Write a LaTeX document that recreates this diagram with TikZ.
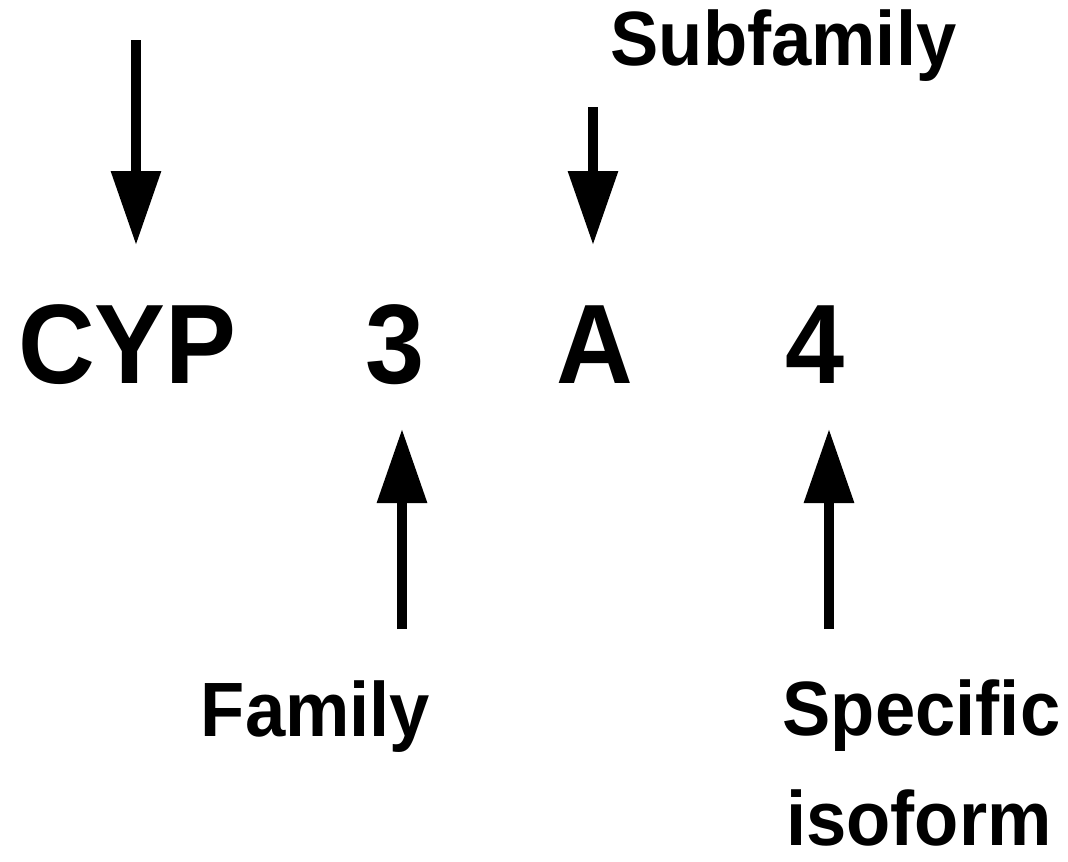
\documentclass[tikz,border=0pt]{standalone}
\usepackage{fontspec}
\setmainfont{Liberation Sans}[FakeStretch=0.94]
\usetikzlibrary{arrows.meta}
\begin{document}
\begin{tikzpicture}[x=1bp,y=-1bp,
  big/.style={inner sep=0pt, anchor=base, font=\fontsize{113bp}{113bp}\selectfont\bfseries},
  lbl/.style={inner sep=0pt, anchor=base, font=\fontsize{77bp}{77bp}\selectfont\bfseries},
  arr/.style={line width=9.5bp, -{Triangle[length=74bp,width=48bp]}}]
\useasboundingbox[fill=white] (0,0) rectangle (1068,862);
% main code
\node[big] (cyp) at (127.5,383) {CYP};
\node[big] (three) at (395,383) {3};
\node[big] (a) at (595,383) {A};
\node[big] (four) at (815,383) {4};
% labels
\node[lbl] (sub) at (783.5,65) {Subfamily};
\node[lbl] (fam) at (315.5,736) {Family};
\node[lbl] (spec) at (921.5,735) {Specific};
\node[lbl] (iso) at (919,845) {isoform};
% arrow ends
\coordinate (c1s) at (136,40);
\coordinate (c1e) at (136,245);
\coordinate (c2s) at (593,107);
\coordinate (c2e) at (593,245);
\coordinate (c3s) at (402,629);
\coordinate (c3e) at (402,429);
\coordinate (c4s) at (829,629);
\coordinate (c4e) at (829,429);
\draw[arr] (c1s) -- (c1e);
\draw[arr] (c2s) -- (c2e);
\draw[arr] (c3s) -- (c3e);
\draw[arr] (c4s) -- (c4e);
\end{tikzpicture}
\end{document}
